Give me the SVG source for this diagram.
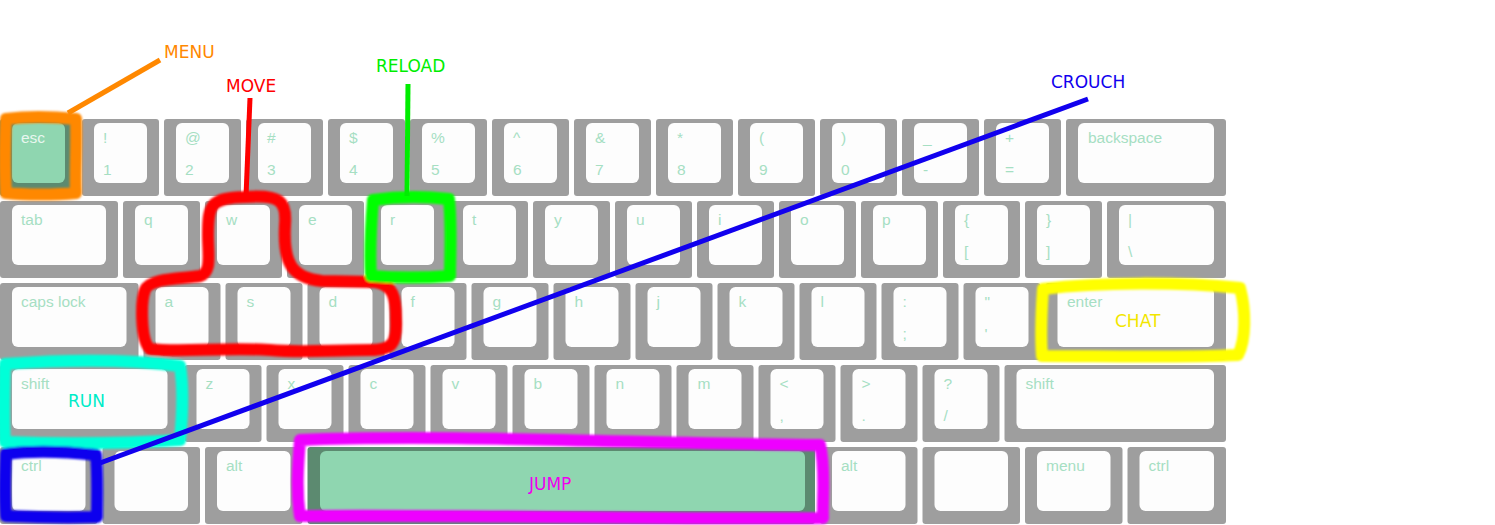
<svg xmlns="http://www.w3.org/2000/svg" width="1495" height="525" viewBox="0 0 1495 525">
<defs>
<style>
.o{fill:#9e9e9e}
.i{fill:#fdfdfd}
.og{fill:#5c8a70}
.ig{fill:#8fd6b0}
.t{font-family:"Liberation Sans",Arial,sans-serif;font-size:15.5px;fill:#a6dfc3}
.tg{font-family:"Liberation Sans",Arial,sans-serif;font-size:15.5px;fill:#e8f7ef}
.lab{font-family:"DejaVu Sans",sans-serif;font-size:17px}
.mark{fill:none;stroke-width:12;stroke-linejoin:round;stroke-linecap:round}
.ln{fill:none;stroke-width:5;stroke-linecap:butt}
</style>
<filter id="soft" x="-5%" y="-5%" width="110%" height="110%"><feGaussianBlur stdDeviation="0.8"/></filter>
</defs>
<rect width="1495" height="525" fill="#ffffff"/>
<g id="keyboard">
<g id="k-esc"><rect class="og" x="0" y="119" width="77" height="77" rx="3"/><rect class="ig" x="12" y="123" width="53" height="60" rx="6"/><text class="tg" x="21" y="143">esc</text></g>
<g id="k-1"><rect class="o" x="82" y="119" width="77" height="77" rx="3"/><rect class="i" x="94" y="123" width="53" height="60" rx="6"/><text class="t" x="103" y="143">!</text><text class="t" x="103" y="175">1</text></g>
<g id="k-2"><rect class="o" x="164" y="119" width="77" height="77" rx="3"/><rect class="i" x="176" y="123" width="53" height="60" rx="6"/><text class="t" x="185" y="143">@</text><text class="t" x="185" y="175">2</text></g>
<g id="k-3"><rect class="o" x="246" y="119" width="77" height="77" rx="3"/><rect class="i" x="258" y="123" width="53" height="60" rx="6"/><text class="t" x="267" y="143">#</text><text class="t" x="267" y="175">3</text></g>
<g id="k-4"><rect class="o" x="328" y="119" width="77" height="77" rx="3"/><rect class="i" x="340" y="123" width="53" height="60" rx="6"/><text class="t" x="349" y="143">$</text><text class="t" x="349" y="175">4</text></g>
<g id="k-5"><rect class="o" x="410" y="119" width="77" height="77" rx="3"/><rect class="i" x="422" y="123" width="53" height="60" rx="6"/><text class="t" x="431" y="143">%</text><text class="t" x="431" y="175">5</text></g>
<g id="k-6"><rect class="o" x="492" y="119" width="77" height="77" rx="3"/><rect class="i" x="504" y="123" width="53" height="60" rx="6"/><text class="t" x="513" y="143">^</text><text class="t" x="513" y="175">6</text></g>
<g id="k-7"><rect class="o" x="574" y="119" width="77" height="77" rx="3"/><rect class="i" x="586" y="123" width="53" height="60" rx="6"/><text class="t" x="595" y="143">&amp;</text><text class="t" x="595" y="175">7</text></g>
<g id="k-8"><rect class="o" x="656" y="119" width="77" height="77" rx="3"/><rect class="i" x="668" y="123" width="53" height="60" rx="6"/><text class="t" x="677" y="143">*</text><text class="t" x="677" y="175">8</text></g>
<g id="k-9"><rect class="o" x="738" y="119" width="77" height="77" rx="3"/><rect class="i" x="750" y="123" width="53" height="60" rx="6"/><text class="t" x="759" y="143">(</text><text class="t" x="759" y="175">9</text></g>
<g id="k-0"><rect class="o" x="820" y="119" width="77" height="77" rx="3"/><rect class="i" x="832" y="123" width="53" height="60" rx="6"/><text class="t" x="841" y="143">)</text><text class="t" x="841" y="175">0</text></g>
<g id="k-minus"><rect class="o" x="902" y="119" width="77" height="77" rx="3"/><rect class="i" x="914" y="123" width="53" height="60" rx="6"/><text class="t" x="923" y="143">_</text><text class="t" x="923" y="175">-</text></g>
<g id="k-equal"><rect class="o" x="984" y="119" width="77" height="77" rx="3"/><rect class="i" x="996" y="123" width="53" height="60" rx="6"/><text class="t" x="1005" y="143">+</text><text class="t" x="1005" y="175">=</text></g>
<g id="k-backspace"><rect class="o" x="1066" y="119" width="160" height="77" rx="3"/><rect class="i" x="1078" y="123" width="136" height="60" rx="6"/><text class="t" x="1088" y="143">backspace</text></g>

<g id="k-tab"><rect class="o" x="0" y="201" width="118" height="77" rx="3"/><rect class="i" x="12" y="205" width="94" height="60" rx="6"/><text class="t" x="21" y="225">tab</text></g>
<g id="k-q"><rect class="o" x="123" y="201" width="77" height="77" rx="3"/><rect class="i" x="135" y="205" width="53" height="60" rx="6"/><text class="t" x="144" y="225">q</text></g>
<g id="k-w"><rect class="o" x="205" y="201" width="77" height="77" rx="3"/><rect class="i" x="217" y="205" width="53" height="60" rx="6"/><text class="t" x="226" y="225">w</text></g>
<g id="k-e"><rect class="o" x="287" y="201" width="77" height="77" rx="3"/><rect class="i" x="299" y="205" width="53" height="60" rx="6"/><text class="t" x="308" y="225">e</text></g>
<g id="k-r"><rect class="o" x="369" y="201" width="77" height="77" rx="3"/><rect class="i" x="381" y="205" width="53" height="60" rx="6"/><text class="t" x="390" y="225">r</text></g>
<g id="k-t"><rect class="o" x="451" y="201" width="77" height="77" rx="3"/><rect class="i" x="463" y="205" width="53" height="60" rx="6"/><text class="t" x="472" y="225">t</text></g>
<g id="k-y"><rect class="o" x="533" y="201" width="77" height="77" rx="3"/><rect class="i" x="545" y="205" width="53" height="60" rx="6"/><text class="t" x="554" y="225">y</text></g>
<g id="k-u"><rect class="o" x="615" y="201" width="77" height="77" rx="3"/><rect class="i" x="627" y="205" width="53" height="60" rx="6"/><text class="t" x="636" y="225">u</text></g>
<g id="k-i"><rect class="o" x="697" y="201" width="77" height="77" rx="3"/><rect class="i" x="709" y="205" width="53" height="60" rx="6"/><text class="t" x="718" y="225">i</text></g>
<g id="k-o"><rect class="o" x="779" y="201" width="77" height="77" rx="3"/><rect class="i" x="791" y="205" width="53" height="60" rx="6"/><text class="t" x="800" y="225">o</text></g>
<g id="k-p"><rect class="o" x="861" y="201" width="77" height="77" rx="3"/><rect class="i" x="873" y="205" width="53" height="60" rx="6"/><text class="t" x="882" y="225">p</text></g>
<g id="k-lbracket"><rect class="o" x="943" y="201" width="77" height="77" rx="3"/><rect class="i" x="955" y="205" width="53" height="60" rx="6"/><text class="t" x="964" y="225">{</text><text class="t" x="964" y="257">[</text></g>
<g id="k-rbracket"><rect class="o" x="1025" y="201" width="77" height="77" rx="3"/><rect class="i" x="1037" y="205" width="53" height="60" rx="6"/><text class="t" x="1046" y="225">}</text><text class="t" x="1046" y="257">]</text></g>
<g id="k-backslash"><rect class="o" x="1107" y="201" width="119" height="77" rx="3"/><rect class="i" x="1119" y="205" width="95" height="60" rx="6"/><text class="t" x="1128" y="225">|</text><text class="t" x="1128" y="257">\</text></g>

<g id="k-caps"><rect class="o" x="0" y="283" width="138.5" height="77" rx="3"/><rect class="i" x="12" y="287" width="114.5" height="60" rx="6"/><text class="t" x="21" y="307">caps lock</text></g>
<g id="k-a"><rect class="o" x="143.5" y="283" width="77" height="77" rx="3"/><rect class="i" x="155.5" y="287" width="53" height="60" rx="6"/><text class="t" x="164.5" y="307">a</text></g>
<g id="k-s"><rect class="o" x="225.5" y="283" width="77" height="77" rx="3"/><rect class="i" x="237.5" y="287" width="53" height="60" rx="6"/><text class="t" x="246.5" y="307">s</text></g>
<g id="k-d"><rect class="o" x="307.5" y="283" width="77" height="77" rx="3"/><rect class="i" x="319.5" y="287" width="53" height="60" rx="6"/><text class="t" x="328.5" y="307">d</text></g>
<g id="k-f"><rect class="o" x="389.5" y="283" width="77" height="77" rx="3"/><rect class="i" x="401.5" y="287" width="53" height="60" rx="6"/><text class="t" x="410.5" y="307">f</text></g>
<g id="k-g"><rect class="o" x="471.5" y="283" width="77" height="77" rx="3"/><rect class="i" x="483.5" y="287" width="53" height="60" rx="6"/><text class="t" x="492.5" y="307">g</text></g>
<g id="k-h"><rect class="o" x="553.5" y="283" width="77" height="77" rx="3"/><rect class="i" x="565.5" y="287" width="53" height="60" rx="6"/><text class="t" x="574.5" y="307">h</text></g>
<g id="k-j"><rect class="o" x="635.5" y="283" width="77" height="77" rx="3"/><rect class="i" x="647.5" y="287" width="53" height="60" rx="6"/><text class="t" x="656.5" y="307">j</text></g>
<g id="k-k"><rect class="o" x="717.5" y="283" width="77" height="77" rx="3"/><rect class="i" x="729.5" y="287" width="53" height="60" rx="6"/><text class="t" x="738.5" y="307">k</text></g>
<g id="k-l"><rect class="o" x="799.5" y="283" width="77" height="77" rx="3"/><rect class="i" x="811.5" y="287" width="53" height="60" rx="6"/><text class="t" x="820.5" y="307">l</text></g>
<g id="k-semicolon"><rect class="o" x="881.5" y="283" width="77" height="77" rx="3"/><rect class="i" x="893.5" y="287" width="53" height="60" rx="6"/><text class="t" x="902.5" y="307">:</text><text class="t" x="902.5" y="339">;</text></g>
<g id="k-quote"><rect class="o" x="963.5" y="283" width="77" height="77" rx="3"/><rect class="i" x="975.5" y="287" width="53" height="60" rx="6"/><text class="t" x="984.5" y="307">"</text><text class="t" x="984.5" y="339">'</text></g>
<g id="k-enter"><rect class="o" x="1045.5" y="283" width="180.5" height="77" rx="3"/><rect class="i" x="1057.5" y="287" width="156.5" height="60" rx="6"/><text class="t" x="1067" y="307">enter</text></g>

<g id="k-lshift"><rect class="o" x="0" y="365" width="179.5" height="77" rx="3"/><rect class="i" x="12" y="369" width="155.5" height="60" rx="6"/><text class="t" x="21" y="389">shift</text></g>
<g id="k-z"><rect class="o" x="184.5" y="365" width="77" height="77" rx="3"/><rect class="i" x="196.5" y="369" width="53" height="60" rx="6"/><text class="t" x="205.5" y="389">z</text></g>
<g id="k-x"><rect class="o" x="266.5" y="365" width="77" height="77" rx="3"/><rect class="i" x="278.5" y="369" width="53" height="60" rx="6"/><text class="t" x="287.5" y="389">x</text></g>
<g id="k-c"><rect class="o" x="348.5" y="365" width="77" height="77" rx="3"/><rect class="i" x="360.5" y="369" width="53" height="60" rx="6"/><text class="t" x="369.5" y="389">c</text></g>
<g id="k-v"><rect class="o" x="430.5" y="365" width="77" height="77" rx="3"/><rect class="i" x="442.5" y="369" width="53" height="60" rx="6"/><text class="t" x="451.5" y="389">v</text></g>
<g id="k-b"><rect class="o" x="512.5" y="365" width="77" height="77" rx="3"/><rect class="i" x="524.5" y="369" width="53" height="60" rx="6"/><text class="t" x="533.5" y="389">b</text></g>
<g id="k-n"><rect class="o" x="594.5" y="365" width="77" height="77" rx="3"/><rect class="i" x="606.5" y="369" width="53" height="60" rx="6"/><text class="t" x="615.5" y="389">n</text></g>
<g id="k-m"><rect class="o" x="676.5" y="365" width="77" height="77" rx="3"/><rect class="i" x="688.5" y="369" width="53" height="60" rx="6"/><text class="t" x="697.5" y="389">m</text></g>
<g id="k-comma"><rect class="o" x="758.5" y="365" width="77" height="77" rx="3"/><rect class="i" x="770.5" y="369" width="53" height="60" rx="6"/><text class="t" x="779.5" y="389">&lt;</text><text class="t" x="779.5" y="421">,</text></g>
<g id="k-period"><rect class="o" x="840.5" y="365" width="77" height="77" rx="3"/><rect class="i" x="852.5" y="369" width="53" height="60" rx="6"/><text class="t" x="861.5" y="389">&gt;</text><text class="t" x="861.5" y="421">.</text></g>
<g id="k-slash"><rect class="o" x="922.5" y="365" width="77" height="77" rx="3"/><rect class="i" x="934.5" y="369" width="53" height="60" rx="6"/><text class="t" x="943.5" y="389">?</text><text class="t" x="943.5" y="421">/</text></g>
<g id="k-rshift"><rect class="o" x="1004.5" y="365" width="221.5" height="77" rx="3"/><rect class="i" x="1016.5" y="369" width="197.5" height="60" rx="6"/><text class="t" x="1025.5" y="389">shift</text></g>

<g id="k-lctrl"><rect class="o" x="0" y="447" width="97.5" height="77" rx="3"/><rect class="i" x="12" y="451" width="73.5" height="60" rx="6"/><text class="t" x="21" y="471">ctrl</text></g>
<g id="k-lwin"><rect class="o" x="102.5" y="447" width="97.5" height="77" rx="3"/><rect class="i" x="114.5" y="451" width="73.5" height="60" rx="6"/></g>
<g id="k-lalt"><rect class="o" x="205" y="447" width="97.5" height="77" rx="3"/><rect class="i" x="217" y="451" width="73.5" height="60" rx="6"/><text class="t" x="226" y="471">alt</text></g>
<g id="k-space"><rect class="og" x="307.5" y="447" width="507.5" height="77" rx="3"/><rect class="ig" x="320" y="451" width="485" height="60" rx="6"/></g>
<g id="k-ralt"><rect class="o" x="820" y="447" width="97.5" height="77" rx="3"/><rect class="i" x="832" y="451" width="73.5" height="60" rx="6"/><text class="t" x="841" y="471">alt</text></g>
<g id="k-rwin"><rect class="o" x="922.5" y="447" width="97.5" height="77" rx="3"/><rect class="i" x="934.5" y="451" width="73.5" height="60" rx="6"/></g>
<g id="k-menu"><rect class="o" x="1025" y="447" width="97.5" height="77" rx="3"/><rect class="i" x="1037" y="451" width="73.5" height="60" rx="6"/><text class="t" x="1046" y="471">menu</text></g>
<g id="k-rctrl"><rect class="o" x="1127.5" y="447" width="98.5" height="77" rx="3"/><rect class="i" x="1139.5" y="451" width="74.5" height="60" rx="6"/><text class="t" x="1148.5" y="471">ctrl</text></g>
</g>

<g id="marks" filter="url(#soft)">
<path id="mark-menu" class="mark" stroke="#ff8800" d="M6 119 C30 116 55 117 76 119 C77 145 75 170 76 193 C55 195 25 195 6 193 C4 165 5 140 6 119 Z"/>
<path id="mark-move" class="mark" stroke="#ff0000" d="M245 197 C280 194 287 201 285 225 C283 262 291 278 322 281 L375 282 C393 285 396 296 396 320 C397 344 392 350 370 350 C330 350 300 353 270 350 C220 347 180 353 150 349 C140 340 141 300 145 290 C150 278 180 279 200 276 C212 272 208 255 208 235 C208 205 210 198 245 197 Z"/>
<path id="mark-reload" class="mark" stroke="#00ff00" d="M373 200 C400 196 430 197 449 199 C452 230 450 255 450 276 C425 278 395 278 371 276 C369 250 371 225 373 200 Z"/>
<path id="mark-run" class="mark" stroke="#00ffd8" d="M5 364 C60 360 120 358 180 366 C184 390 182 420 180 440 C120 444 60 444 5 442 C3 415 4 390 5 364 Z"/>
<path id="mark-crouch" class="mark" stroke="#1100ee" d="M6 454 C35 450 70 452 96 455 C98 475 97 500 97 517 C65 518 30 517 6 516 C4 495 5 475 6 454 Z"/>
<path id="mark-jump" class="mark" stroke="#ee00ff" d="M300 440 C450 434 650 444 820 445 C826 470 822 500 823 518 C650 520 450 514 300 516 C296 490 298 465 300 440 Z"/>
<path id="mark-chat" class="mark" stroke="#ffff00" d="M1043 289 C1100 282 1180 282 1240 288 C1246 310 1246 340 1238 355 C1180 358 1100 356 1042 356 C1040 330 1042 305 1043 289 Z"/>
</g>

<g id="connectors">
<path class="ln" stroke="#ff8800" stroke-width="6" d="M160 60 L68 113"/>
<path class="ln" stroke="#ff0000" d="M250 98 L246 196"/>
<path class="ln" stroke="#00ee00" d="M408 84 L407 196"/>
<path class="ln" stroke="#1100ee" stroke-width="6" d="M1088 99 L100 463"/>
</g>

<g id="labels">
<text id="lab-menu" class="lab" x="164" y="58" fill="#ff8800">MENU</text>
<text id="lab-move" class="lab" x="226" y="92" fill="#ff0000">MOVE</text>
<text id="lab-reload" class="lab" x="376" y="72" fill="#00ee00">RELOAD</text>
<text id="lab-crouch" class="lab" x="1051" y="88" fill="#1100ee">CROUCH</text>
<text id="lab-run" class="lab" x="68" y="407" fill="#00ecc8">RUN</text>
<text id="lab-chat" class="lab" x="1115" y="327" fill="#f2e600">CHAT</text>
<text id="lab-jump" class="lab" x="529" y="490" fill="#ee00ee">JUMP</text>
</g>
</svg>
